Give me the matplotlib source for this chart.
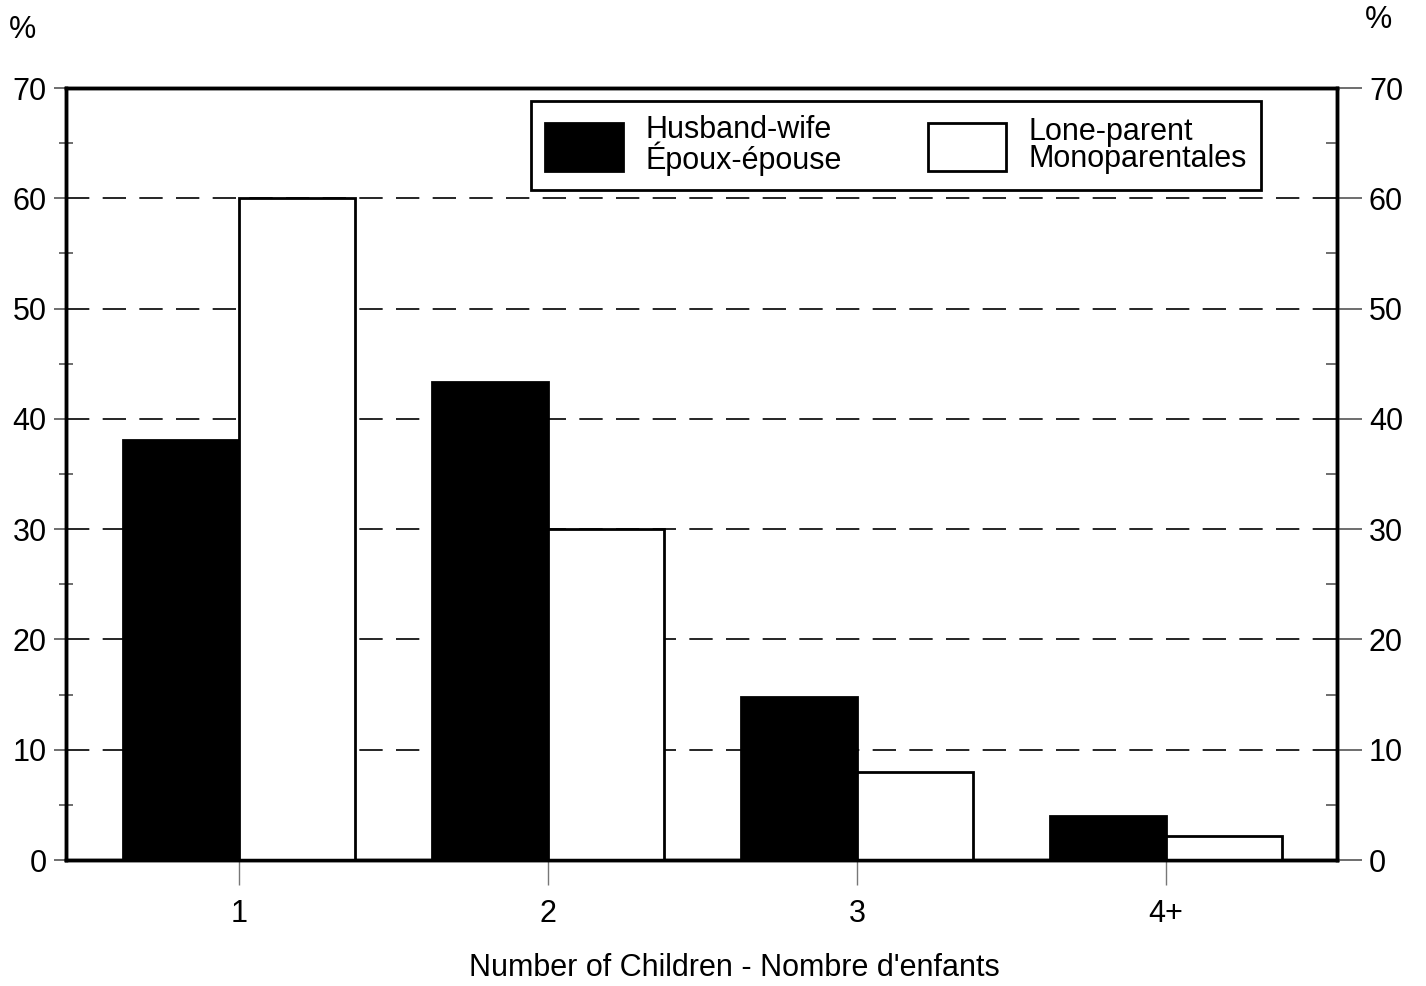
import numpy as np
import matplotlib
matplotlib.use('Agg')
import matplotlib.pyplot as plt
from matplotlib.ticker import MultipleLocator

#data
categories = ['1', '2', '3', '4+']
husband_wife = [38.1, 43.3, 14.8, 4.0]
lone_parent = [60.0, 30.0, 8.0, 2.2]
y_ticks = [0, 10, 20, 30, 40, 50, 60, 70]

plt.rcParams['font.family'] = ['Liberation Sans', 'DejaVu Sans']
fs = 22

fig = plt.figure(figsize=(14.26, 9.86), dpi=100)
ax = fig.add_axes([66/1426, 126/986, 1271/1426, 772/986])

x = np.arange(1, len(categories) + 1)
w = 0.375
ax.bar(x - w/2, husband_wife, w, color='black', edgecolor='black', linewidth=2,
       label='Husband-wife\nÉpoux-épouse', zorder=3)
ax.bar(x + w/2, lone_parent, w, color='white', edgecolor='black', linewidth=2,
       label='Lone-parent\nMonoparentales', zorder=3)

ax.set_xlim(0.44, 4.553)
ax.set_ylim(0, 70)
ax.set_xticks(x)
ax.set_xticklabels(categories, fontsize=fs)
ax.set_yticks(y_ticks)
ax.yaxis.set_minor_locator(MultipleLocator(5))
ax.tick_params(axis='x', direction='out', length=18, width=1, color='#777777', pad=10)
ax.tick_params(axis='y', which='major', direction='out', length=9, width=1.2,
               color='#555555', labelsize=fs, pad=5)
ax.tick_params(axis='y', which='minor', direction='inout', length=10, width=1.2,
               color='#555555')

#right hand axis with its own tick style
ax2 = ax.twinx()
ax2.set_ylim(0, 70)
ax2.set_yticks(y_ticks)
ax2.yaxis.set_minor_locator(MultipleLocator(5))
ax2.tick_params(axis='y', which='major', direction='out', length=18, width=1.2,
                color='#555555', labelsize=fs, pad=5)
ax2.tick_params(axis='y', which='minor', direction='in', length=8, width=1.2,
                color='#555555')

for s in ax.spines.values():
    s.set_linewidth(2.5)
for s in ax2.spines.values():
    s.set_linewidth(2.5)

#dashed grid lines
for v in y_ticks[1:-1]:
    ax.axhline(v, color='black', linewidth=1.2, dashes=(14, 8), zorder=1)

ax.set_xlabel('Number of Children - Nombre d\'enfants', fontsize=fs)
ax.xaxis.set_label_coords((734 - 66) / 1271, -(968 - 860) / 772)
ax.xaxis.label.set_va('center')

fig.text(22/1426, 1 - 30/986, '%', fontsize=fs, ha='center', va='center')
fig.text(1378/1426, 1 - 20/986, '%', fontsize=fs, ha='center', va='center')

leg = ax2.legend(*ax.get_legend_handles_labels(), loc='upper right',
                 bbox_to_anchor=(0.940, 0.983), ncol=2,
                 fontsize=fs, frameon=True, fancybox=False, framealpha=1,
                 edgecolor='black', borderaxespad=0, handlelength=2.55,
                 handleheight=2.05, handletextpad=0.75, columnspacing=2.8,
                 borderpad=0.45, labelspacing=0.2)
leg.get_frame().set_linewidth(2)
for t in leg.get_texts():
    t.set_linespacing(0.88)

fig.savefig('out.png', dpi=100)
